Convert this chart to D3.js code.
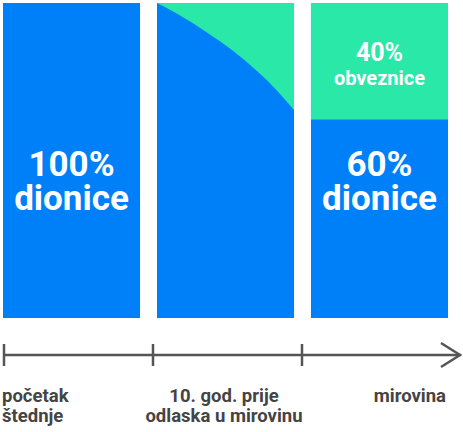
<!DOCTYPE html>
<html><head><meta charset="utf-8">
<script src="https://cdn.jsdelivr.net/npm/d3@7"></script>
<style>body{margin:0;background:#fff}text{font-family:"Helvetica Neue",Roboto,"Liberation Sans",Arial,sans-serif;font-weight:bold}</style>
</head><body>
<script>
const categories = ["početak\nštednje", "10. god. prije\nodlaska u mirovinu", "mirovina"];
const stocksStart = [100, 100, 63];
const transitionT = [0, 0.15, 0.37, 0.55, 0.74, 0.88, 1];
const transitionBonds = [0, 3.5, 9.5, 15, 22, 28, 34];
const panelTexts = [[{t:"100%",s:35},{t:"dionice",s:35}],null,[{t:"60%",s:35},{t:"dionice",s:35}]];
const bondText = [{t:"40%",s:25},{t:"obveznice",s:20}];

const W=463,H=432;
const svg=d3.select("body").append("svg").attr("width",W).attr("height",H);
const blue="#0080f8", green="#29e8a8";
const x=d3.scaleBand().domain(d3.range(3)).range([3,448]).paddingInner(0.11).paddingOuter(0);
const y=d3.scaleLinear().domain([100,0]).range([3,318]);
svg.selectAll("rect.p").data(stocksStart).enter().append("rect")
 .attr("x",(d,i)=>x(i)).attr("y",y(100)).attr("width",x.bandwidth()).attr("height",y(0)-y(100)).attr("fill",blue);
svg.append("rect").attr("x",x(2)).attr("y",y(100)).attr("width",x.bandwidth())
 .attr("height",y(stocksStart[2])-y(100)).attr("fill",green);
const cx=d3.scaleLinear().domain([0,1]).range([x(1),x(1)+x.bandwidth()]);
const pts=transitionT.map((t,i)=>[cx(t),y(100-transitionBonds[i])]);
const line=d3.line().curve(d3.curveMonotoneX);
svg.append("path").attr("d",line(pts)+`L${cx(1)},${y(100)}Z`).attr("fill",green);
function block(lines,cxp,ys){lines.forEach((l,k)=>svg.append("text").attr("x",cxp).attr("y",ys[k])
 .attr("text-anchor","middle").attr("fill","#fff").attr("font-size",l.s).text(l.t));}
block(panelTexts[0],x(0)+x.bandwidth()/2,[176,210]);
block(panelTexts[2],x(2)+x.bandwidth()/2,[176,210]);
block(bondText,x(2)+x.bandwidth()/2,[61,85]);
const ax=d3.scaleLinear().domain([0,2]).range([4,302]);
const g=svg.append("g").attr("stroke","#555").attr("stroke-width",2.5).attr("fill","none");
g.append("line").attr("x1",4).attr("x2",461).attr("y1",355).attr("y2",355);
[0,1,2].forEach(i=>g.append("line").attr("x1",ax(i)).attr("x2",ax(i)).attr("y1",344).attr("y2",366));
g.append("path").attr("d","M441,343L460,355L441,367").attr("stroke-linejoin","miter");
const lab=[{x:2,a:"start"},{x:224,a:"middle"},{x:446,a:"end"}];
categories.forEach((c,i)=>c.split("\n").forEach((l,k)=>svg.append("text").attr("x",lab[i].x).attr("y",402+k*20)
 .attr("text-anchor",lab[i].a).attr("fill","#444").attr("font-size",18.5).text(l)));
</script></body></html>
